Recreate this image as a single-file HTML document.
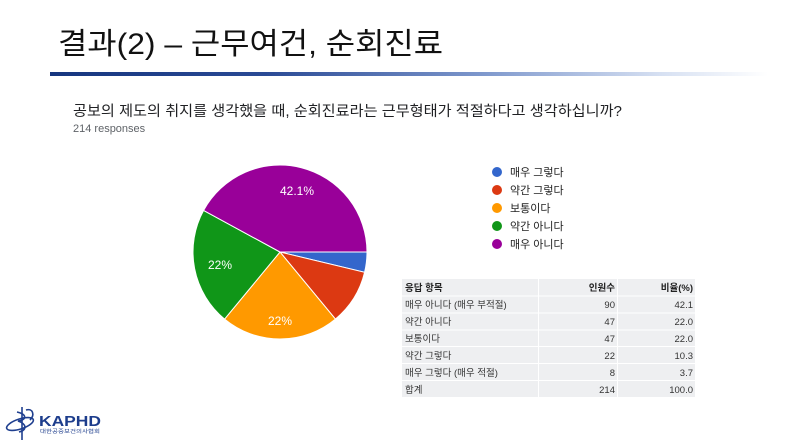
<!DOCTYPE html>
<html><head><meta charset="utf-8">
<style>
html,body{margin:0;padding:0;background:#fff;}
body{width:800px;height:448px;overflow:hidden;position:relative;}
svg{position:absolute;left:0;top:0;}
text{font-family:"Liberation Sans","Noto Sans CJK KR",sans-serif;}
</style></head>
<body>
<svg width="800" height="448" viewBox="0 0 800 448" xmlns="http://www.w3.org/2000/svg">
<defs>
<linearGradient id="g" x1="0" x2="1" y1="0" y2="0">
<stop offset="0" stop-color="#16367f"/>
<stop offset="0.3" stop-color="#2a4a95"/>
<stop offset="0.6" stop-color="#7d97cc"/>
<stop offset="0.85" stop-color="#d6e0f2"/>
<stop offset="1" stop-color="#ffffff"/>
</linearGradient>
</defs>
<!-- title -->
<text x="58" y="54" font-size="30" fill="#111" textLength="385" lengthAdjust="spacingAndGlyphs">결과(2) – 근무여건, 순회진료</text>
<rect x="50" y="72" width="718" height="4" fill="url(#g)"/>
<!-- question -->
<text x="73" y="116" font-size="14.5" fill="#202124" textLength="549" lengthAdjust="spacingAndGlyphs">공보의 제도의 취지를 생각했을 때, 순회진료라는 근무형태가 적절하다고 생각하십니까?</text>
<text x="73" y="132" font-size="11" fill="#5f6368">214 responses</text>
<!-- pie -->
<g stroke="#fff" stroke-width="1">
<path d="M280,252 L367,252 A87,87 0 0 1 364.6,272.3 Z" fill="#3366cc"/>
<path d="M280,252 L364.6,272.3 A87,87 0 0 1 335.4,319.1 Z" fill="#dc3912"/>
<path d="M280,252 L335.4,319.1 A87,87 0 0 1 224.6,319.1 Z" fill="#ff9900"/>
<path d="M280,252 L224.6,319.1 A87,87 0 0 1 203.6,210.4 Z" fill="#109618"/>
<path d="M280,252 L203.6,210.4 A87,87 0 0 1 367,252 Z" fill="#990099"/>
</g>
<text x="297" y="195" font-size="12" fill="#fff" text-anchor="middle">42.1%</text>
<text x="220" y="269" font-size="12" fill="#fff" text-anchor="middle">22%</text>
<text x="280" y="325" font-size="12" fill="#fff" text-anchor="middle">22%</text>
<!-- legend -->
<circle cx="497" cy="172" r="5" fill="#3366cc"/>
<circle cx="497" cy="190" r="5" fill="#dc3912"/>
<circle cx="497" cy="208" r="5" fill="#ff9900"/>
<circle cx="497" cy="226" r="5" fill="#109618"/>
<circle cx="497" cy="244" r="5" fill="#990099"/>
<g font-size="11" fill="#222">
<text x="510" y="176">매우 그렇다</text>
<text x="510" y="194">약간 그렇다</text>
<text x="510" y="212">보통이다</text>
<text x="510" y="230">약간 아니다</text>
<text x="510" y="248">매우 아니다</text>
</g>
<!-- table -->
<rect x="402" y="279" width="293" height="118" fill="#eeeff1"/>
<g fill="#fff">
<rect x="402" y="295.5" width="293" height="1"/>
<rect x="402" y="312.5" width="293" height="1"/>
<rect x="402" y="329.5" width="293" height="1"/>
<rect x="402" y="346" width="293" height="1"/>
<rect x="402" y="363" width="293" height="1"/>
<rect x="402" y="380" width="293" height="1"/>
<rect x="538" y="279" width="1" height="118"/>
<rect x="617" y="279" width="1" height="118"/>
</g>
<g font-size="9.5" fill="#333">
<text x="405" y="291" font-weight="bold" fill="#222">응답 항목</text>
<text x="615" y="291" font-weight="bold" fill="#222" text-anchor="end">인원수</text>
<text x="693" y="291" font-weight="bold" fill="#222" text-anchor="end">비율(%)</text>
<text x="405" y="308">매우 아니다 (매우 부적절)</text>
<text x="615" y="308" text-anchor="end">90</text>
<text x="693" y="308" text-anchor="end">42.1</text>
<text x="405" y="325">약간 아니다</text>
<text x="615" y="325" text-anchor="end">47</text>
<text x="693" y="325" text-anchor="end">22.0</text>
<text x="405" y="342">보통이다</text>
<text x="615" y="342" text-anchor="end">47</text>
<text x="693" y="342" text-anchor="end">22.0</text>
<text x="405" y="359">약간 그렇다</text>
<text x="615" y="359" text-anchor="end">22</text>
<text x="693" y="359" text-anchor="end">10.3</text>
<text x="405" y="376">매우 그렇다 (매우 적절)</text>
<text x="615" y="376" text-anchor="end">8</text>
<text x="693" y="376" text-anchor="end">3.7</text>
<text x="405" y="393">합계</text>
<text x="615" y="393" text-anchor="end">214</text>
<text x="693" y="393" text-anchor="end">100.0</text>
</g>
<!-- logo -->
<g stroke="#1f3f8f" fill="none" stroke-width="1.6">
<ellipse cx="20" cy="424" rx="14" ry="5" transform="rotate(-18 20 424)"/>
<path d="M22,407 L22,440"/>
<path d="M17,412 C27,414 27,420 18,421 C27,424 27,430 19,432"/>
<path d="M26,410 C33,408 35,415 30,420"/>
</g>
<text x="39" y="426" font-size="15" font-weight="bold" fill="#1d3d8c" textLength="62" lengthAdjust="spacingAndGlyphs">KAPHD</text>
<text x="40" y="433" font-size="5" fill="#1d3d8c" textLength="60" lengthAdjust="spacingAndGlyphs">대한공중보건의사협회</text>
</svg>
</body></html>
